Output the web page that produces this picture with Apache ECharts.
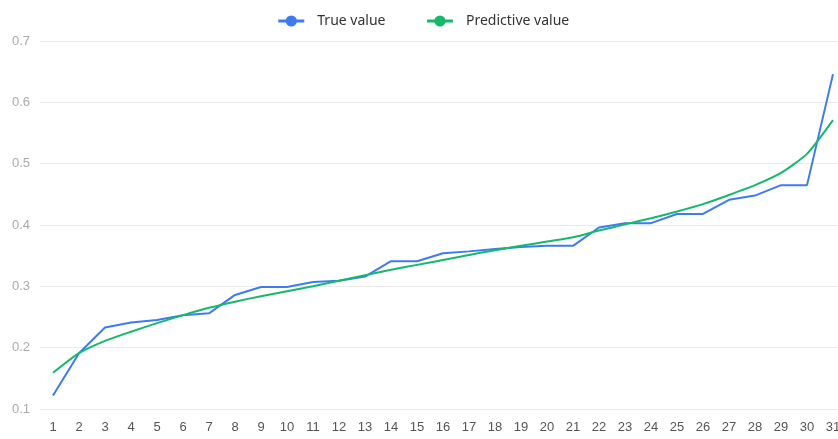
<!DOCTYPE html>
<html>
<head>
<meta charset="utf-8">
<script src="https://cdn.jsdelivr.net/npm/echarts@6/dist/echarts.min.js"></script>
<style>
    html, body { margin: 0; padding: 0; background: #fff; overflow: hidden; }
    /* chart is a bit wider than the window, its right edge is cut off like in the reference */
    #chart { width: 846px; height: 439px; }
</style>
</head>
<body>
<div id="chart"></div>
<script>
const categories = ['1','2','3','4','5','6','7','8','9','10','11','12','13','14','15','16',
    '17','18','19','20','21','22','23','24','25','26','27','28','29','30','31']

const true_value = [0.122, 0.191, 0.233, 0.241, 0.245, 0.253, 0.256, 0.286, 0.299, 0.299,
    0.307, 0.309, 0.316, 0.341, 0.341, 0.354, 0.357, 0.361, 0.364, 0.366, 0.366,
    0.396, 0.403, 0.403, 0.418, 0.418, 0.441, 0.448, 0.465, 0.465, 0.646]

const predictive_value = [0.159, 0.191, 0.211, 0.226, 0.240, 0.253, 0.265, 0.275, 0.284, 0.292,
    0.300, 0.309, 0.318, 0.327, 0.335, 0.343, 0.351, 0.359, 0.366, 0.373, 0.380,
    0.391, 0.401, 0.411, 0.422, 0.434, 0.449, 0.465, 0.485, 0.516, 0.571]

const chart = echarts.init(document.getElementById('chart'))

let option = {
    animation: false,
    color: ['#3e7bf0', '#17b86c'],
    legend: {
        top: 9,
        left: 'center',
        itemGap: 40,
        itemWidth: 26,
        itemHeight: 14,
        lineStyle: { width: 3 },
        textStyle: { color: '#333', fontSize: 14, fontFamily: 'Noto Sans', padding: [0, 0, 0, 8] },
        data: ['True value', 'Predictive value']
    },
    grid: { left: 40, right: 0, top: 41, bottom: 30 },
    xAxis: {
        type: 'category',
        boundaryGap: true,
        data: categories,
        axisLine: { show: false },
        axisTick: { show: false },
        axisLabel: { color: '#555', fontSize: 13, margin: 12, interval: 0 }
    },
    yAxis: {
        type: 'value',
        min: 0.1,
        max: 0.7,
        interval: 0.1,
        axisLabel: { color: '#aaa', fontSize: 13, margin: 10 },
        splitLine: { lineStyle: { color: '#ebebeb' } }
    },
    series: [
        {
            name: 'True value',
            type: 'line',
            symbol: 'circle',
            symbolSize: 9,
            showSymbol: false,
            lineStyle: { width: 2 },
            data: true_value
        },
        {
            name: 'Predictive value',
            type: 'line',
            symbol: 'circle',
            symbolSize: 9,
            showSymbol: false,
            smooth: 0.2,
            lineStyle: { width: 2 },
            data: predictive_value
        }
    ]
}

chart.setOption(option)
</script>
</body>
</html>
